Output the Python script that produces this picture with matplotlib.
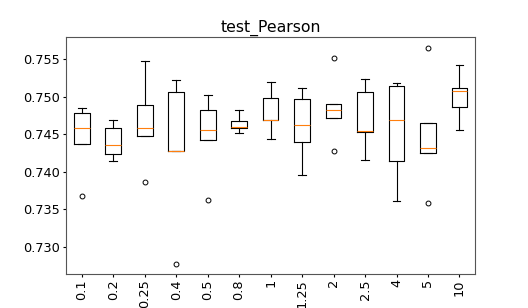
import matplotlib
matplotlib.use("Agg")
import matplotlib.pyplot as plt

# Values
labels = ["0.1", "0.2", "0.25", "0.4", "0.5", "0.8", "1", "1.25", "2", "2.5", "4", "5", "10"]
whislo = [0.74367, 0.74144, 0.74478, 0.74282, 0.74424, 0.74513, 0.74442, 0.73962, 0.74717, 0.74153, 0.73615, 0.74251, 0.74562]
q1 = [0.74367, 0.74233, 0.74478, 0.74282, 0.74424, 0.74580, 0.74687, 0.74393, 0.74717, 0.74531, 0.74144, 0.74251, 0.74860]
med = [0.74580, 0.74357, 0.74580, 0.74282, 0.74562, 0.74602, 0.74687, 0.74624, 0.74820, 0.74548, 0.74687, 0.74313, 0.75073]
q3 = [0.74780, 0.74580, 0.74887, 0.75068, 0.74820, 0.74682, 0.74988, 0.74975, 0.74900, 0.75068, 0.75140, 0.74647, 0.75113]
whishi = [0.74847, 0.74687, 0.75473, 0.75224, 0.75020, 0.74828, 0.75202, 0.75113, 0.74900, 0.75242, 0.75188, 0.74647, 0.75428]
fliers = [[0.73678], [], [0.73864], [0.72771], [0.73624], [], [], [], [0.75513, 0.74273], [], [], [0.75647, 0.73584], []]

stats = []
for i, lab in enumerate(labels):
    stats.append(dict(label=lab, whislo=whislo[i], q1=q1[i], med=med[i],
                      q3=q3[i], whishi=whishi[i], fliers=fliers[i]))

lw = 0.8
fig, ax = plt.subplots(figsize=(5.28, 3.08), dpi=100)
ax.bxp(stats, flierprops=dict(markersize=3.5, markeredgewidth=0.7),
       boxprops=dict(linewidth=lw), whiskerprops=dict(linewidth=lw),
       capprops=dict(linewidth=lw), medianprops=dict(linewidth=lw))
ax.set_title("test_Pearson", fontsize=11.3, pad=4)
ax.set_ylim(0.72636, 0.75797)
ax.set_yticks([0.730, 0.735, 0.740, 0.745, 0.750, 0.755])
ax.tick_params(axis="x", labelrotation=90, labelsize=9.3, length=2.4, pad=1.2)
ax.tick_params(axis="y", labelsize=9.3, length=2.4, pad=2)
for s in ax.spines.values():
    s.set_linewidth(0.8)
    s.set_edgecolor("#555555")

plt.savefig("out.png")
